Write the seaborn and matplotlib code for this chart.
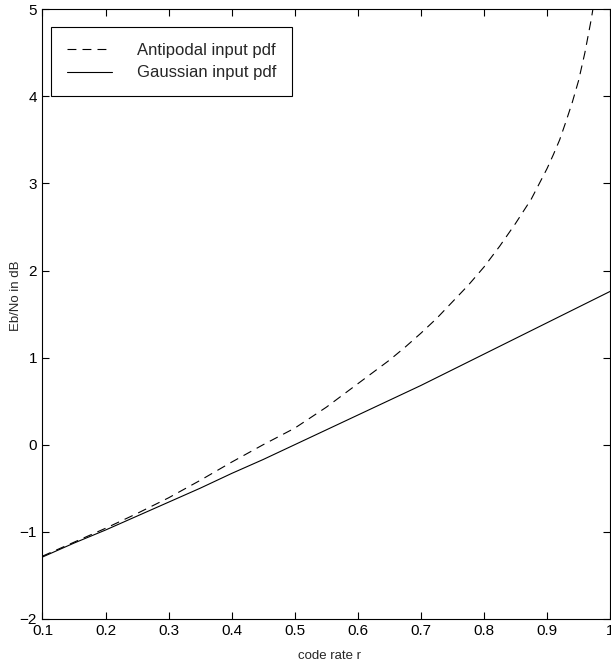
"""
plot.py - Eb/No needed vs code rate, antipodal vs Gaussian input pdf.
"""

import matplotlib
matplotlib.use("Agg")

import matplotlib.pyplot as plt  # noqa: E402
import pandas as pd  # noqa: E402
import seaborn as sns  # noqa: E402

# values
rate_gauss = [0.1, 0.15, 0.2, 0.25, 0.3, 0.35, 0.4, 0.45, 0.5, 0.55,
              0.6, 0.65, 0.7, 0.75, 0.8, 0.85, 0.9, 0.95, 1.0]
ebno_gauss = [-1.29, -1.13, -0.98, -0.82, -0.66, -0.50, -0.33, -0.17, 0.00, 0.17,
              0.34, 0.51, 0.68, 0.86, 1.04, 1.22, 1.40, 1.58, 1.76]

rate_anti = [0.1, 0.15, 0.2, 0.25, 0.3, 0.35, 0.4, 0.45, 0.5, 0.55,
             0.6, 0.65, 0.675, 0.7, 0.725, 0.75, 0.775, 0.8, 0.825, 0.85,
             0.875, 0.9, 0.91, 0.92, 0.93, 0.94, 0.95, 0.96, 0.97, 0.975, 0.98]
ebno_anti = [-1.28, -1.12, -0.96, -0.79, -0.61, -0.41, -0.20, 0.00, 0.19, 0.43,
             0.70, 0.97, 1.12, 1.28, 1.45, 1.64, 1.83, 2.04, 2.28, 2.54,
             2.82, 3.17, 3.33, 3.50, 3.71, 3.93, 4.18, 4.50, 4.88, 5.10, 5.35]

x_ticks = [0.1, 0.2, 0.3, 0.4, 0.5, 0.6, 0.7, 0.8, 0.9, 1.0]
x_tick_labels = ["0.1", "0.2", "0.3", "0.4", "0.5", "0.6", "0.7", "0.8", "0.9", "1"]
y_ticks = [-2, -1, 0, 1, 2, 3, 4, 5]

sns.set_theme(style="ticks")
plt.rcParams["font.family"] = ["Liberation Sans", "DejaVu Sans"]
plt.rcParams["axes.linewidth"] = 0.8

df_anti = pd.DataFrame({"r": rate_anti, "ebno": ebno_anti})
df_gauss = pd.DataFrame({"r": rate_gauss, "ebno": ebno_gauss})

fig = plt.figure(figsize=(6.11, 6.64), dpi=100)
ax = fig.add_axes([0.0695, 0.068, 0.929, 0.918])

sns.lineplot(data=df_anti, x="r", y="ebno", ax=ax, color="black",
             linewidth=0.8, linestyle=(0, (8, 5.5)),
             label="Antipodal input pdf")
sns.lineplot(data=df_gauss, x="r", y="ebno", ax=ax, color="black",
             linewidth=0.8, label="Gaussian input pdf")

ax.set_xlim(0.1, 1.0)
ax.set_ylim(-2, 5)
ax.set_xticks(x_ticks)
ax.set_xticklabels(x_tick_labels)
ax.set_yticks(y_ticks)
ax.tick_params(direction="in", length=5, width=0.8, labelsize=11,
               top=True, right=True, colors="black", pad=4)
for spine in ax.spines.values():
    spine.set_visible(True)
    spine.set_color("black")

ax.set_xlabel("code rate r", fontsize=9.5)
ax.xaxis.set_label_coords(0.505, -0.051)
ax.set_ylabel("Eb/No in dB", fontsize=9.5)
ax.yaxis.set_label_coords(-0.036, 0.53)

leg = ax.legend(loc="upper left", bbox_to_anchor=(0.015, 0.971),
                borderaxespad=0, fontsize=12, handlelength=2.7,
                handletextpad=1.5, labelspacing=0.46, borderpad=0.95,
                fancybox=False, frameon=True)
leg.get_frame().set_edgecolor("black")
leg.get_frame().set_linewidth(0.8)
leg.get_frame().set_alpha(1)

fig.savefig("out.png", dpi=100)
plt.close(fig)
